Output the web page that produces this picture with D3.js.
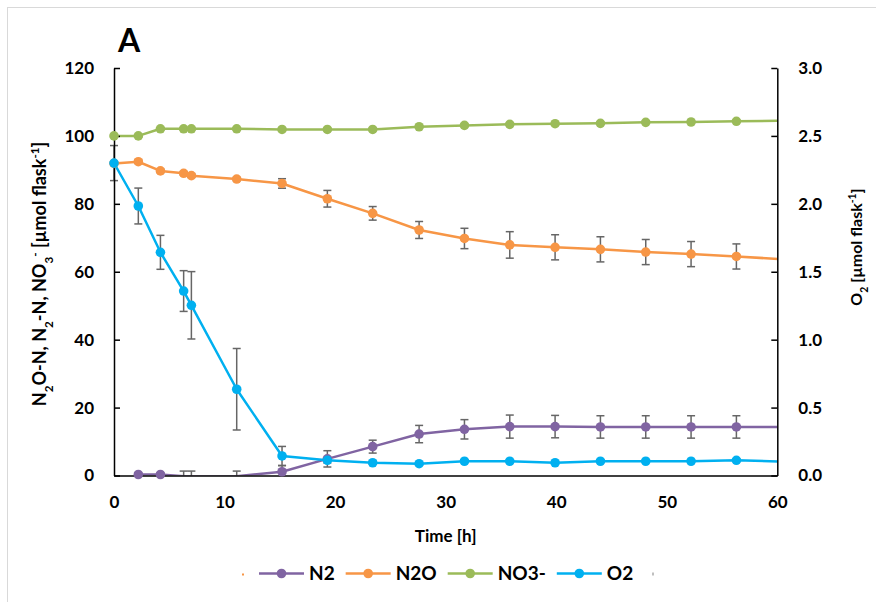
<!DOCTYPE html>
<html>
<head>
<meta charset="utf-8">
<script src="https://cdn.jsdelivr.net/npm/d3@7"></script>
<style>
  html, body { margin: 0; padding: 0; background: #fff; }
  svg { display: block; }
  text { font-family: Lato, "Open Sans", sans-serif; font-weight: bold; fill: #000; }
</style>
</head>
<body>
<svg id="chart" width="876" height="602"></svg>
<script>
// Sampling times [h]
const times = [0, 2.2, 4.2, 6.3, 7, 11.1, 15.2, 19.3, 23.4, 27.6, 31.7, 35.8, 39.9, 44, 48.1, 52.2, 56.3, 60.4];

// Left axis series [µmol flask-1] and their standard deviations
const n2 = [null, 0.3, 0.3, -0.2, -0.2, -0.2, 1.1, 4.9, 8.5, 12.2, 13.6, 14.4, 14.4, 14.3, 14.3, 14.3, 14.3, 14.3];
const n2Err = [0, 0.4, 0.4, 1.5, 1.5, 1.5, 1.8, 2.4, 1.9, 2.55, 2.85, 3.4, 3.3, 3.3, 3.3, 3.3, 3.3, 0];
const n2o = [91.9, 92.4, 89.7, 89.0, 88.3, 87.3, 86.0, 81.5, 77.2, 72.3, 69.8, 67.9, 67.2, 66.6, 65.8, 65.2, 64.5, 63.7];
const n2oErr = [0.5, 0.5, 0.5, 0.5, 0.5, 0.5, 1.4, 2.45, 2.0, 2.5, 3.0, 3.9, 3.7, 3.7, 3.7, 3.7, 3.7, 0];
const no3 = [100, 100, 102.1, 102.1, 102.1, 102.1, 101.9, 101.9, 101.9, 102.7, 103.1, 103.4, 103.6, 103.7, 104.0, 104.1, 104.3, 104.5];
const no3Err = [0.3, 0.3, 0.3, 0.3, 0.3, 0.3, 0.3, 0.3, 0.3, 0.3, 0.3, 0.3, 0.3, 0.3, 0.3, 0.3, 0.3, 0];

// Right axis series O2 [µmol flask-1]
const o2 = [2.30, 1.984, 1.643, 1.358, 1.253, 0.635, 0.144, 0.112, 0.094, 0.087, 0.105, 0.105, 0.094, 0.105, 0.105, 0.105, 0.112, 0.102];
const o2Err = [0.129, 0.132, 0.125, 0.15, 0.248, 0.30, 0.07, 0.02, 0.01, 0.01, 0.01, 0.01, 0.01, 0.01, 0.01, 0.01, 0.01, 0];

// Axis ticks
const xTicks = [0, 10, 20, 30, 40, 50, 60];
const yLeftTicks = [0, 20, 40, 60, 80, 100, 120];
const yRightTicks = [0, 0.5, 1.0, 1.5, 2.0, 2.5, 3.0];

const seriesNames = ["N2", "N2O", "NO3-", "O2"];
const seriesColors = ["#8064A2", "#F79646", "#9BBB59", "#00B0F0"];

const svg = d3.select("#chart");

// outer frame of the chart area
svg.append("rect").attr("x", 7.5).attr("y", 7.5).attr("width", 1000).attr("height", 1000)
  .attr("fill", "none").attr("stroke", "#d9d9d9").attr("stroke-width", 1);

const plot = { left: 114, right: 777.3, top: 68, bottom: 475.5 };

const x = d3.scaleLinear().domain([0, 60]).range([plot.left, plot.right]);
const yL = d3.scaleLinear().domain([0, 120]).range([plot.bottom, plot.top]);
const yR = d3.scaleLinear().domain([0, 3]).range([plot.bottom, plot.top]);

svg.append("defs").append("clipPath").attr("id", "plotClip")
  .append("rect")
  .attr("x", plot.left).attr("y", plot.top - 2)
  .attr("width", plot.right - plot.left).attr("height", plot.bottom - plot.top + 2);

// Axes
const axisStyle = g => {
  g.selectAll(".domain").attr("stroke", "#000").attr("stroke-width", 1.5);
  g.selectAll(".tick line").attr("stroke", "#000").attr("stroke-width", 1.5);
  g.selectAll(".tick text").style("font-family", "Lato, sans-serif").style("font-weight", "bold")
    .style("font-size", "17px").attr("fill", "#000");
};

// Build series records
const series = [
  { name: "N2", vals: n2, err: n2Err, y: yL, color: seriesColors[0] },
  { name: "N2O", vals: n2o, err: n2oErr, y: yL, color: seriesColors[1] },
  { name: "NO3-", vals: no3, err: no3Err, y: yL, color: seriesColors[2] },
  { name: "O2", vals: o2, err: o2Err, y: yR, color: seriesColors[3] }
];

const errColor = "#666";
const capHalf = 4;

// error bars, drawn beneath the lines and markers
series.forEach(s => {
  const pts = times.map((t, i) => ({ t, v: s.vals[i], e: s.err[i] })).filter(p => p.v !== null);
  const eg = svg.append("g").attr("class", "err");
  pts.filter(p => p.e > 0 && p.t <= 60).forEach(p => {
    const cx = x(p.t);
    const yTop = Math.max(s.y(p.v + p.e), plot.top);
    const yBot = Math.min(s.y(p.v - p.e), plot.bottom);
    eg.append("line").attr("x1", cx).attr("x2", cx).attr("y1", yTop).attr("y2", yBot)
      .attr("stroke", errColor).attr("stroke-width", 1.5);
    [s.y(p.v + p.e), s.y(p.v - p.e)].forEach(yy => {
      if (yy >= plot.top && yy <= plot.bottom) {
        eg.append("line").attr("x1", cx - capHalf).attr("x2", cx + capHalf).attr("y1", yy).attr("y2", yy)
          .attr("stroke", errColor).attr("stroke-width", 1.5);
      }
    });
  });
});

series.forEach(s => {
  const pts = times.map((t, i) => ({ t, v: s.vals[i] })).filter(p => p.v !== null);
  const line = d3.line().x(p => x(p.t)).y(p => s.y(p.v));
  svg.append("path").datum(pts)
    .attr("clip-path", "url(#plotClip)")
    .attr("d", line).attr("fill", "none")
    .attr("stroke", s.color).attr("stroke-width", 2.5).attr("stroke-linejoin", "round");
});

svg.append("g").attr("transform", `translate(0,${plot.bottom})`)
  .call(d3.axisBottom(x).tickValues(xTicks).tickFormat(d3.format("d")).tickSize(0).tickSizeOuter(0).tickPadding(20))
  .call(axisStyle);

svg.append("g").attr("transform", `translate(${plot.left},0)`)
  .call(d3.axisLeft(yL).tickValues(yLeftTicks).tickFormat(d3.format("d")).tickSize(-6).tickSizeOuter(0).tickPadding(20))
  .call(axisStyle);

svg.append("g").attr("transform", `translate(${plot.right},0)`)
  .call(d3.axisRight(yR).tickValues(yRightTicks).tickFormat(d3.format(".1f")).tickSize(-6).tickSizeOuter(0).tickPadding(21))
  .call(axisStyle);

// markers are shown only for points inside the axis ranges
series.forEach(s => {
  const pts = times.map((t, i) => ({ t, v: s.vals[i] })).filter(p => p.v !== null);
  const dom = s.y.domain();
  svg.append("g").selectAll("circle")
    .data(pts.filter(p => p.t <= 60 && p.v >= dom[0] && p.v <= dom[1]))
    .join("circle")
    .attr("cx", p => x(p.t)).attr("cy", p => s.y(p.v)).attr("r", 4.8)
    .attr("fill", s.color);
});

// Panel letter
svg.append("text").attr("x", 118).attr("y", 52).style("font-size", "32px").text("A");

// Axis titles
function richText(sel, parts, size) {
  parts.forEach(([txt, kind]) => {
    const ts = sel.append("tspan").text(txt);
    if (kind === "sub") ts.attr("baseline-shift", "sub").style("font-size", (size * 0.65) + "px");
    if (kind === "sup") ts.attr("baseline-shift", "super").style("font-size", (size * 0.65) + "px");
  });
}

const leftTitle = svg.append("text")
  .attr("transform", "translate(46,274) rotate(-90)")
  .attr("text-anchor", "middle").style("font-size", "18px");
richText(leftTitle, [["N"], ["2", "sub"], ["O-N, N"], ["2", "sub"], ["-N, NO"], ["3", "sub"], ["-", "sup"],
  [" [µmol flask"], ["-1", "sup"], ["]"]], 18);

const rightTitle = svg.append("text")
  .attr("transform", "translate(862,247) rotate(-90)")
  .attr("text-anchor", "middle").style("font-size", "16px");
richText(rightTitle, [["O"], ["2", "sub"], [" [µmol flask"], ["-1", "sup"], ["]"]], 16);

svg.append("text").attr("x", (plot.left + plot.right) / 2).attr("y", 542)
  .attr("text-anchor", "middle").style("font-size", "17px").text("Time [h]");

// Legend
const legY = 573.5;
const lg = svg.append("g");
lg.append("rect").attr("x", 242).attr("y", legY).attr("width", 2).attr("height", 2).attr("fill", "#F79646");
let lx = 259;
series.forEach(s => {
  lg.append("line").attr("x1", lx).attr("x2", lx + 45).attr("y1", legY).attr("y2", legY)
    .attr("stroke", s.color).attr("stroke-width", 2.5);
  lg.append("circle").attr("cx", lx + 22.5).attr("cy", legY).attr("r", 4.8).attr("fill", s.color);
  const t = lg.append("text").attr("x", lx + 50).attr("y", legY + 6.5).style("font-size", "19px").text(s.name);
  lx += 50 + t.node().getComputedTextLength() + 11;
});
lg.append("rect").attr("x", 652).attr("y", legY - 1).attr("width", 2).attr("height", 3).attr("fill", "#bfbfbf");
</script>
</body>
</html>
